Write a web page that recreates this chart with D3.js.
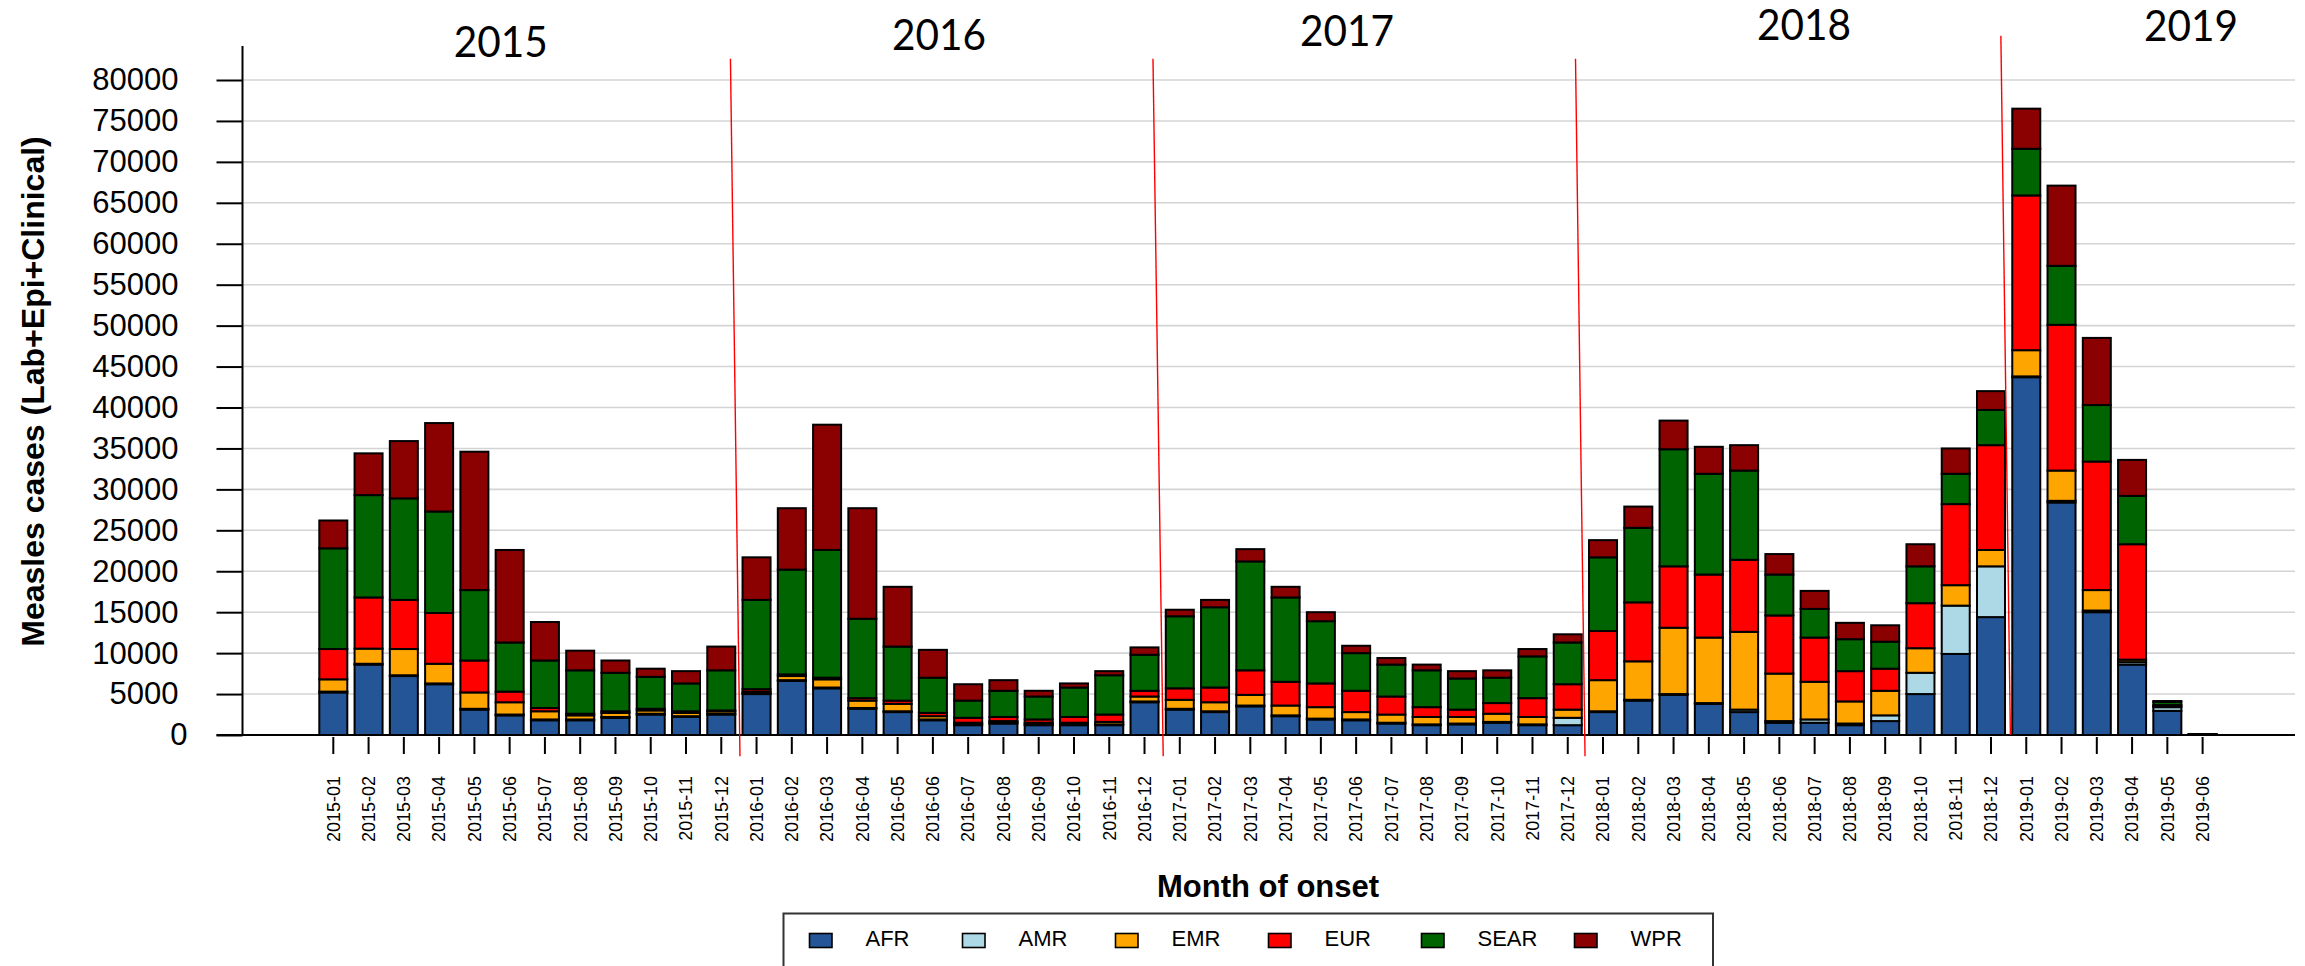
<!DOCTYPE html>
<html><head><meta charset="utf-8">
<script src="https://cdn.jsdelivr.net/npm/d3@7"></script>
<style>html,body{margin:0;padding:0;background:#fff;} svg{display:block;}</style>
</head><body><svg id="c" width="2305" height="966"></svg>
<script>
const months = ["2015-01","2015-02","2015-03","2015-04","2015-05","2015-06","2015-07","2015-08","2015-09","2015-10","2015-11","2015-12",
"2016-01","2016-02","2016-03","2016-04","2016-05","2016-06","2016-07","2016-08","2016-09","2016-10","2016-11","2016-12",
"2017-01","2017-02","2017-03","2017-04","2017-05","2017-06","2017-07","2017-08","2017-09","2017-10","2017-11","2017-12",
"2018-01","2018-02","2018-03","2018-04","2018-05","2018-06","2018-07","2018-08","2018-09","2018-10","2018-11","2018-12",
"2019-01","2019-02","2019-03","2019-04","2019-05","2019-06"];
const afr  = [5200,8600,7200,6200,3100,2400,1800,1800,2100,2500,2200,2500, 5000,6600,5700,3200,2800,1800,1200,1400,1200,1200,1200,4000, 3100,2800,3500,2300,1900,1800,1400,1200,1300,1500,1200,1200, 2800,4200,4900,3800,2800,1500,1500,1200,1700,5000,9900,14400, 43700,28400,15000,8600,2950,80];
const amr  = [100,100,100,100,100,100,100,100,100,100,100,100, 100,100,100,100,100,100,100,100,100,100,100,100, 100,100,100,100,100,100,100,100,100,100,100,900, 100,100,100,100,300,200,400,200,700,2600,5900,6200, 100,200,200,300,450,0];
const emr  = [1500,1850,3200,2400,2000,1500,1000,500,500,400,400,300, 200,500,1000,900,900,400,200,200,200,200,300,600, 1100,1100,1300,1200,1400,900,1000,900,800,1000,900,1000, 3800,4700,8100,8000,9500,5800,4600,2700,3000,3000,2500,2000, 3200,3700,2500,300,100,0];
const eur  = [3700,6250,6000,6200,3900,1300,400,200,200,200,200,100, 300,200,200,300,400,400,600,500,400,700,900,700, 1400,1800,3000,2900,2900,2600,2200,1200,900,1300,2300,3100, 6000,7200,7500,7700,8800,7100,5400,3700,2700,5500,9900,12800, 18900,17800,15700,14100,150,10];
const sear = [12300,12500,12400,12400,8600,6000,5800,5300,4700,3900,3400,4900, 10900,12800,15600,9700,6600,4300,2100,3200,2800,3600,4800,4400, 8800,9800,13300,10300,7600,4600,3900,4500,3800,3100,5100,5100, 9000,9100,14300,12300,10900,5000,3500,3900,3300,4500,3700,4300, 5700,7200,6900,5900,400,10];
const wpr  = [3400,5100,7000,10800,16900,11300,4700,2400,1500,1000,1500,2900, 5200,7500,15300,13500,7300,3400,2000,1300,700,500,500,900, 800,900,1500,1300,1100,900,800,700,900,900,900,1000, 2100,2600,3500,3300,3100,2500,2200,2000,2000,2700,3100,2300, 4900,9800,8200,4400,100,0];

const regions = ["AFR","AMR","EMR","EUR","SEAR","WPR"];
const colors  = ["#245597","#add8e6","#ffa500","#ff0000","#006400","#8b0000"];
const yTicks  = [0,5000,10000,15000,20000,25000,30000,35000,40000,45000,50000,55000,60000,65000,70000,75000,80000];
const years   = ["2015","2016","2017","2018","2019"];
const yearIdx = [4.75,17.17,28.74,41.70,52.67];     // position in month steps
const yearTop = [56.7,50,46,40,40.7];               // label baseline (px)
const divIdx0 = [11.26,23.24,35.22,47.28];          // red divider, top (month steps)
const divIdx1 = [11.53,23.53,35.49,47.55];          // red divider, bottom
const divVal0 = [82600,82600,82600,85400];          // top value
const divVal1 = [-2600,-2600,-2600,0];              // bottom value

const series = [afr,amr,emr,eur,sear,wpr];
const table = months.map((m,i)=>{const r={month:m}; regions.forEach((k,j)=>r[k]=series[j][i]); return r;});

const svg = d3.select("#c");
const FONT = "'Liberation Sans', Arial, sans-serif";
const axisX = 242.5, gridRight = 2295;

const x = d3.scaleBand().domain(months).range([315.67, 315.67+54*35.27]).paddingInner(0.206).paddingOuter(0.103);
const y = d3.scaleLinear().domain([0,80000]).range([735,80]);
const xc = i => x(months[0]) + x.bandwidth()/2 + i*x.step();

// gridlines
svg.append("g").selectAll("line").data(yTicks.filter(d=>d>0)).join("line")
  .attr("x1",axisX).attr("x2",gridRight).attr("y1",d=>y(d)).attr("y2",d=>y(d))
  .attr("stroke","#d4d4d4").attr("stroke-width",1.6);

// y axis
const ya = svg.append("g").attr("transform",`translate(${axisX},0)`)
  .call(d3.axisLeft(y).tickValues(yTicks).tickFormat(d3.format("d")).tickSize(26).tickPadding(38));
ya.select(".domain").remove();
ya.selectAll(".tick line").attr("stroke","#000").attr("stroke-width",2);
ya.selectAll(".tick text").attr("font-family",FONT).attr("font-size",31).attr("fill","#000")
  .attr("dx",d=>d===0?9:0);
svg.append("line").attr("x1",axisX).attr("x2",axisX).attr("y1",46).attr("y2",y(0)).attr("stroke","#000").attr("stroke-width",2);

// bars
const stack = d3.stack().keys(regions)(table);
svg.append("g").selectAll("g").data(stack).join("g")
  .attr("fill",(d,i)=>colors[i])
  .selectAll("rect").data(d=>d).join("rect")
  .attr("x",d=>x(d.data.month)).attr("width",x.bandwidth())
  .attr("y",d=>y(d[1])).attr("height",d=>Math.max(0,y(d[0])-y(d[1])))
  .attr("stroke","#000").attr("stroke-width",2);

// baseline
svg.append("line").attr("x1",216.5).attr("x2",gridRight).attr("y1",y(0)).attr("y2",y(0)).attr("stroke","#000").attr("stroke-width",2.2);

// x axis ticks & labels
const xa = svg.append("g").attr("transform",`translate(0,${y(0)+2})`)
  .call(d3.axisBottom(x).tickSize(17).tickSizeOuter(0));
xa.select(".domain").remove();
xa.selectAll(".tick line").attr("stroke","#000").attr("stroke-width",2);
xa.selectAll(".tick text").attr("font-family",FONT).attr("font-size",18).attr("fill","#000")
  .attr("transform","rotate(-90)").attr("text-anchor","end")
  .attr("x",-39).attr("y",0).attr("dy","0.35em");

// red dividers
svg.append("g").selectAll("line").data(divIdx0).join("line")
  .attr("x1",(d,i)=>xc(divIdx0[i])).attr("x2",(d,i)=>xc(divIdx1[i]))
  .attr("y1",(d,i)=>y(divVal0[i])).attr("y2",(d,i)=>y(divVal1[i]))
  .attr("stroke","#ff0000").attr("stroke-width",1.4);

// year labels
svg.append("g").selectAll("text").data(years).join("text")
  .attr("x",(d,i)=>xc(yearIdx[i])).attr("y",(d,i)=>yearTop[i])
  .attr("text-anchor","middle").attr("font-family","Lato, 'Noto Sans', sans-serif").attr("font-size",42)
  .attr("textLength",94).attr("lengthAdjust","spacingAndGlyphs").attr("fill","#000").text(d=>d);

// axis titles
svg.append("text").attr("transform","translate(43.5,391.5) rotate(-90)").attr("text-anchor","middle")
  .attr("font-family",FONT).attr("font-weight","bold").attr("font-size",32).attr("fill","#000")
  .text("Measles cases (Lab+Epi+Clinical)");
svg.append("text").attr("x",1268).attr("y",897).attr("text-anchor","middle")
  .attr("font-family",FONT).attr("font-weight","bold").attr("font-size",31).attr("fill","#000")
  .text("Month of onset");

// legend
const lg = svg.append("g");
lg.append("rect").attr("x",783.5).attr("y",913.5).attr("width",929.5).attr("height",70)
  .attr("fill","none").attr("stroke","#333").attr("stroke-width",2);
const li = lg.selectAll("g").data(regions).join("g").attr("transform",(d,i)=>`translate(${809.5+i*153},0)`);
li.append("rect").attr("x",0).attr("y",933.5).attr("width",22.5).attr("height",14)
  .attr("fill",(d,i)=>colors[i]).attr("stroke","#000").attr("stroke-width",1.6);
li.append("text").attr("x",56).attr("y",946).attr("font-family",FONT).attr("font-size",22).attr("fill","#000").text(d=>d);
</script></body></html>
